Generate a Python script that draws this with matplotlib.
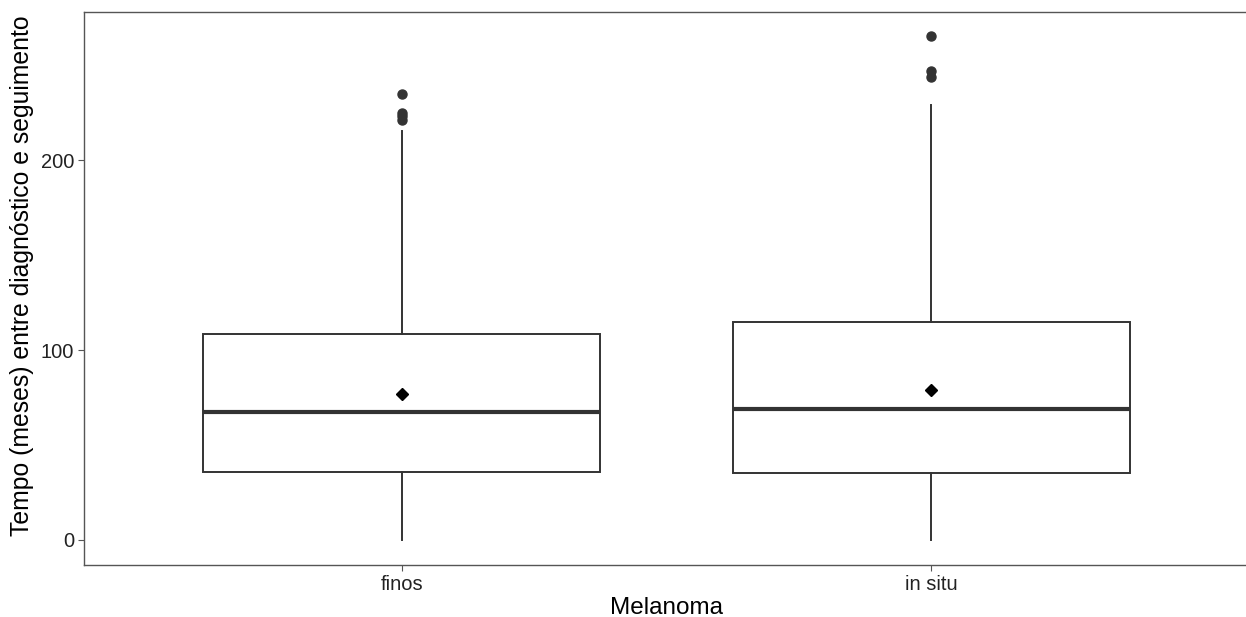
import matplotlib
matplotlib.use("Agg")
import matplotlib.pyplot as plt

plt.rcParams["font.family"] = ["Liberation Sans", "DejaVu Sans"]

# summary of follow-up time (months) per melanoma group
groups = ["finos", "in situ"]
q1 = [35.5, 35.2]
medians = [67.5, 68.8]
q3 = [108.3, 115.0]
whisker_lo = [0.0, 0.0]
whisker_hi = [215.3, 229.5]
means = [76.9, 79.2]
outliers = [
    [235.2, 224.8, 223.2, 221.6],
    [265.4, 247.2, 243.8],
]

INK = "#333333"

fig = plt.figure(figsize=(12.46, 6.17), dpi=100)
ax = fig.add_axes([84 / 1246, 52 / 617, (1249 - 84) / 1246, (565 - 12) / 617])

stats = []
for i, g in enumerate(groups):
    stats.append(dict(label=g, q1=q1[i], med=medians[i], q3=q3[i],
                      whislo=whisker_lo[i], whishi=whisker_hi[i],
                      mean=means[i], fliers=outliers[i]))

pos = list(range(1, len(groups) + 1))
ax.bxp(stats, positions=pos, widths=0.75, showmeans=True, showcaps=False,
       patch_artist=True,
       boxprops=dict(facecolor="white", edgecolor=INK, linewidth=1.4),
       whiskerprops=dict(color=INK, linewidth=1.4),
       medianprops=dict(color=INK, linewidth=3.0, solid_capstyle="butt"),
       meanprops=dict(marker="D", markerfacecolor="black", markeredgecolor="black",
                      markersize=6.5),
       flierprops=dict(marker="o", markerfacecolor=INK, markeredgecolor=INK,
                       markersize=6.5))

ax.set_xlim(0.4, 2.6)
ax.set_ylim(-13.3, 278.3)
ax.set_yticks([0, 100, 200])
ax.set_xticks(pos)
ax.set_xticklabels(groups)

for side in ("left", "bottom", "top"):
    ax.spines[side].set_color("#555555")
    ax.spines[side].set_linewidth(1.0)
ax.spines["right"].set_visible(False)
ax.tick_params(axis="both", length=4, width=0.8, color="#555555",
               labelsize=14.5, labelcolor="#222222", pad=3)

ax.set_xlabel("Melanoma", fontsize=17.5, color="black", labelpad=2)
ax.set_ylabel("Tempo (meses) entre diagnóstico e seguimento", fontsize=17.8,
              color="black")
ax.yaxis.set_label_coords(-0.043, 0.524)

fig.savefig("out.png", dpi=100)
